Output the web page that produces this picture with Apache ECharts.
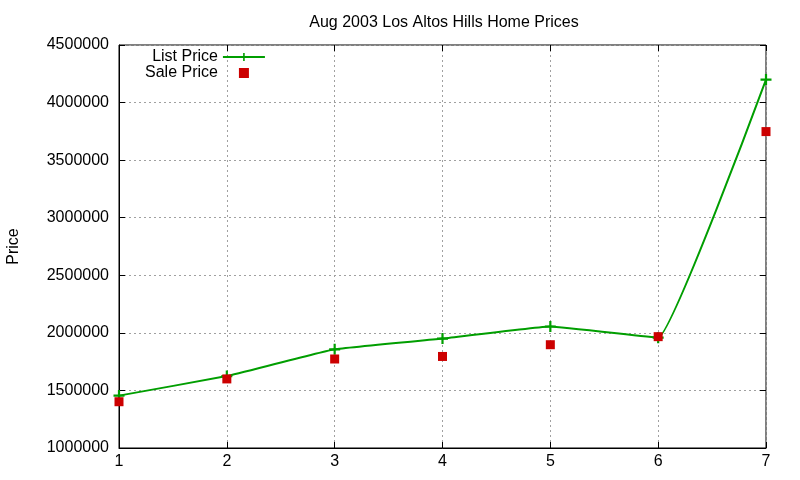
<!DOCTYPE html>
<html>
<head>
<meta charset="utf-8">
<script src="https://cdn.jsdelivr.net/npm/echarts@6/dist/echarts.min.js"></script>
<style>
  html, body { margin: 0; padding: 0; background: #fff; }
  #chart { width: 800px; height: 480px; }
</style>
</head>
<body>
<div id="chart"></div>
<script>
// values
var houses = [1, 2, 3, 4, 5, 6, 7];
var listPrice = [1455000, 1625000, 1857000, 1950000, 2055000, 1958000, 4200000];
var salePrice = [1402000, 1600000, 1773000, 1795000, 1897000, 1967000, 3748000];

var plus = 'path://M4,0H6V4H10V6H6V10H4V6H0V4H4Z';
var square = 'path://M0,0H10V10H0Z';
var font = 'Liberation Sans';

var chart = echarts.init(document.getElementById('chart'));

var gridLine = { show: true, lineStyle: { color: '#a0a0a0', type: [2, 3], width: 1 } };
var tickIn = { show: true, inside: true, length: 6, lineStyle: { color: '#000' } };

option = {
    animation: false,
    textStyle: { fontFamily: font },
    title: {
        text: 'Aug 2003 Los Altos Hills Home Prices',
        left: 439,
        top: 10,
        textAlign: 'center',
        textStyle: { fontFamily: font, fontSize: 16, fontWeight: 'normal', color: '#000' }
    },
    legend: {
        orient: 'vertical',
        left: 140,
        top: 44,
        align: 'right',
        itemWidth: 42,
        itemHeight: 10,
        itemGap: 0,
        textStyle: { fontFamily: font, fontSize: 16, lineHeight: 16, color: '#000' },
        data: ['List Price', 'Sale Price']
    },
    grid: {
        left: 119, right: 34, top: 45, bottom: 32,
        outerBoundsMode: 'none',
        show: true, borderColor: '#000', borderWidth: 1
    },
    xAxis: [{
        type: 'value', min: 1, max: 7, interval: 1,
        axisLine: { show: true, onZero: false, lineStyle: { color: '#000' } },
        axisTick: tickIn,
        axisLabel: { color: '#000', fontSize: 16, fontFamily: font, margin: 6 },
        splitLine: gridLine
    }, {
        type: 'value', min: 1, max: 7, interval: 1, position: 'top',
        axisLine: { show: false }, axisTick: tickIn,
        axisLabel: { show: false }, splitLine: { show: false }
    }],
    yAxis: [{
        type: 'value', min: 1000000, max: 4500000, interval: 500000,
        name: 'Price', nameLocation: 'middle', nameGap: 97, nameRotate: 90,
        nameTextStyle: { color: '#000', fontSize: 16, fontFamily: font },
        axisLine: { show: true, lineStyle: { color: '#000' } },
        axisTick: tickIn,
        axisLabel: {
            color: '#000', fontSize: 16, fontFamily: font, margin: 10,
            formatter: function (v) { return String(v); }
        },
        splitLine: gridLine
    }, {
        type: 'value', min: 1000000, max: 4500000, interval: 500000, position: 'right',
        axisLine: { show: false }, axisTick: tickIn,
        axisLabel: { show: false }, splitLine: { show: false }
    }],
    series: [{
        name: 'List Price',
        type: 'line',
        data: houses.map(function (h, i) { return [h, listPrice[i]]; }),
        smooth: 0.08,
        symbol: plus,
        symbolSize: 11,
        showAllSymbol: true,
        itemStyle: { color: '#009e00' },
        lineStyle: { color: '#009e00', width: 2 },
        z: 3
    }, {
        name: 'Sale Price',
        type: 'scatter',
        data: houses.map(function (h, i) { return [h, salePrice[i]]; }),
        symbol: square,
        symbolSize: 9,
        symbolKeepAspect: true,
        itemStyle: { color: '#cc0000', opacity: 1 },
        z: 4
    }]
};

chart.setOption(option);
</script>
</body>
</html>
